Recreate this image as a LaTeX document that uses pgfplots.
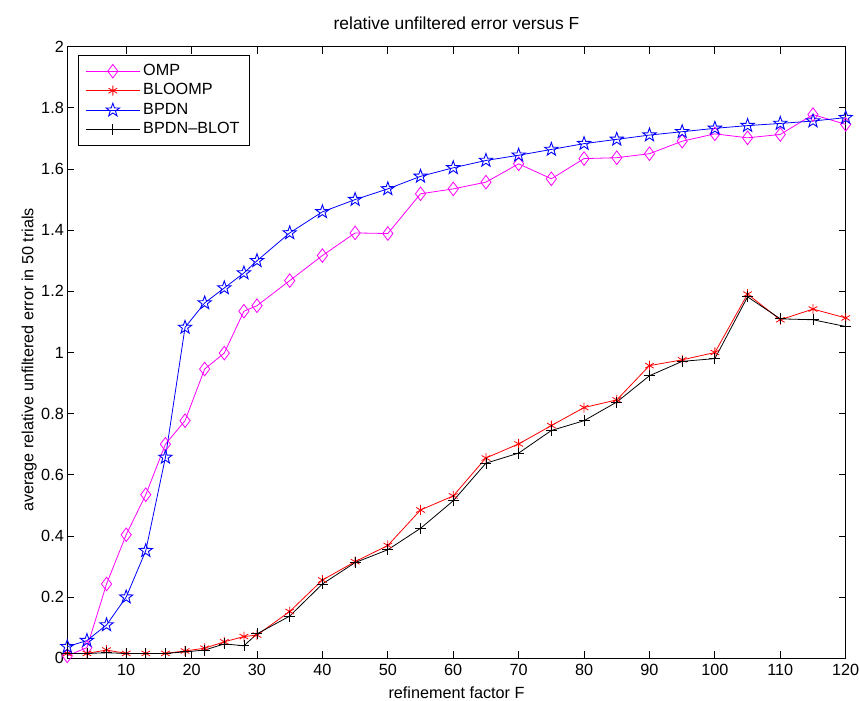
\documentclass[border=0pt]{standalone}
\usepackage{fontspec}
\setmainfont{Liberation Sans}
\usepackage{pgfplots}
\pgfplotsset{compat=1.18}
\usetikzlibrary{plotmarks}
\definecolor{mmag}{rgb}{1,0,1}
\definecolor{mred}{rgb}{1,0,0}
\definecolor{mblue}{rgb}{0,0,1}
\pgfdeclareplotmark{pentastar}{%
  \pgfpathmoveto{\pgfpointpolar{90}{\pgfplotmarksize}}%
  \pgfpathlineto{\pgfpointpolar{126}{0.40*\pgfplotmarksize}}%
  \pgfpathlineto{\pgfpointpolar{162}{\pgfplotmarksize}}%
  \pgfpathlineto{\pgfpointpolar{198}{0.40*\pgfplotmarksize}}%
  \pgfpathlineto{\pgfpointpolar{234}{\pgfplotmarksize}}%
  \pgfpathlineto{\pgfpointpolar{270}{0.40*\pgfplotmarksize}}%
  \pgfpathlineto{\pgfpointpolar{306}{\pgfplotmarksize}}%
  \pgfpathlineto{\pgfpointpolar{342}{0.40*\pgfplotmarksize}}%
  \pgfpathlineto{\pgfpointpolar{18}{\pgfplotmarksize}}%
  \pgfpathlineto{\pgfpointpolar{54}{0.40*\pgfplotmarksize}}%
  \pgfpathclose
  \pgfusepathqstroke
}
\begin{document}
\begin{tikzpicture}
\useasboundingbox (0,0) rectangle (859pt,701pt);
\begin{axis}[
  at={(67.3pt,42.7pt)}, anchor=south west,
  width=778.4pt, height=611.6pt, scale only axis,
  xmin=1, xmax=120, ymin=0, ymax=2,
  xtick={10,20,30,40,50,60,70,80,90,100,110,120},
  ytick={0,0.2,0.4,0.6,0.8,1,1.2,1.4,1.6,1.8,2},
  yticklabels={0,0.2,0.4,0.6,0.8,1,1.2,1.4,1.6,1.8,2},
  tick align=inside, major tick length=7pt,
  tick style={black, line width=0.8pt},
  axis line style={black, line width=1pt},
  clip=false,
  /pgf/number format/assume math mode=true,
  tick label style={font=\fontsize{16.2}{19}\selectfont},
  xticklabel style={yshift=-2.5pt},
  title={relative unfiltered error versus F},
  title style={font=\fontsize{17.4}{20}\selectfont, at={(axis description cs:0.5,1)}, anchor=base, yshift=10.7pt},
  xlabel={refinement factor F},
  xlabel style={font=\fontsize{16.2}{19}\selectfont, at={(axis description cs:0.5,0)}, anchor=base, yshift=-40pt},
  ylabel={average relative unfiltered error in 50 trials},
  ylabel style={font=\fontsize{16.2}{19}\selectfont, at={(axis description cs:-0.0435,0.488)}, anchor=base, rotate=0},
  legend image code/.code={\draw[mark repeat=2,mark phase=2,#1] plot coordinates {(0pt,0pt) (27pt,0pt) (54pt,0pt)};},
  legend cell align=left,
  legend style={at={(axis description cs:0,1)}, anchor=north west, xshift=10.7pt, yshift=-8.3pt,
    draw=black, line width=0.9pt, fill=white, font=\fontsize{16.2}{19}\selectfont,
    inner xsep=7pt, inner ysep=6pt, row sep=0pt,
    nodes={inner xsep=3pt, inner ysep=2pt, text height=12pt, text depth=3.5pt}},
]
\addplot[mmag, line width=0.8pt, mark=diamond, mark size=6.8pt, mark options={solid, fill=none, line width=0.8pt}] coordinates {
(1,0.008) (4,0.035) (7,0.243) (10,0.404) (13,0.535) (16,0.700) (19,0.777) (22,0.946) (25,0.998) (28,1.135) (30,1.153)
(35,1.235) (40,1.317) (45,1.391) (50,1.389) (55,1.519) (60,1.535) (65,1.557) (70,1.617) (75,1.568) (80,1.634)
(85,1.637) (90,1.650) (95,1.691) (100,1.715) (105,1.702) (110,1.713) (115,1.778) (120,1.746)};
\addlegendentry{OMP}
\addplot[mred, line width=0.8pt, mark=asterisk, mark size=5pt, mark options={solid, line width=0.8pt}] coordinates {
(1,0.016) (4,0.016) (7,0.027) (10,0.016) (13,0.016) (16,0.016) (19,0.024) (22,0.033) (25,0.054) (28,0.071) (30,0.076)
(35,0.153) (40,0.256) (45,0.316) (50,0.369) (55,0.485) (60,0.531) (65,0.655) (70,0.701) (75,0.761) (80,0.820)
(85,0.845) (90,0.957) (95,0.976) (100,1.000) (105,1.191) (110,1.107) (115,1.142) (120,1.113)};
\addlegendentry{BLOOMP}
\addplot[mblue, line width=0.8pt, mark=pentastar, mark size=7pt, mark options={solid, line width=0.9pt}] coordinates {
(1,0.038) (4,0.058) (7,0.109) (10,0.200) (13,0.352) (16,0.657) (19,1.082) (22,1.162) (25,1.211) (28,1.260) (30,1.300)
(35,1.391) (40,1.460) (45,1.500) (50,1.535) (55,1.576) (60,1.604) (65,1.628) (70,1.645) (75,1.664) (80,1.683)
(85,1.697) (90,1.711) (95,1.722) (100,1.733) (105,1.742) (110,1.749) (115,1.757) (120,1.768)};
\addlegendentry{BPDN}
\addplot[black, line width=0.8pt, mark=+, mark size=5.5pt, mark options={solid, line width=0.8pt}] coordinates {
(1,0.016) (4,0.016) (7,0.018) (10,0.016) (13,0.016) (16,0.016) (19,0.021) (22,0.027) (25,0.047) (28,0.041) (30,0.080)
(35,0.138) (40,0.243) (45,0.313) (50,0.355) (55,0.425) (60,0.515) (65,0.638) (70,0.671) (75,0.745) (80,0.777)
(85,0.838) (90,0.924) (95,0.971) (100,0.980) (105,1.182) (110,1.110) (115,1.107) (120,1.085)};
\addlegendentry{BPDN--BLOT}
\end{axis}
\end{tikzpicture}
\end{document}
